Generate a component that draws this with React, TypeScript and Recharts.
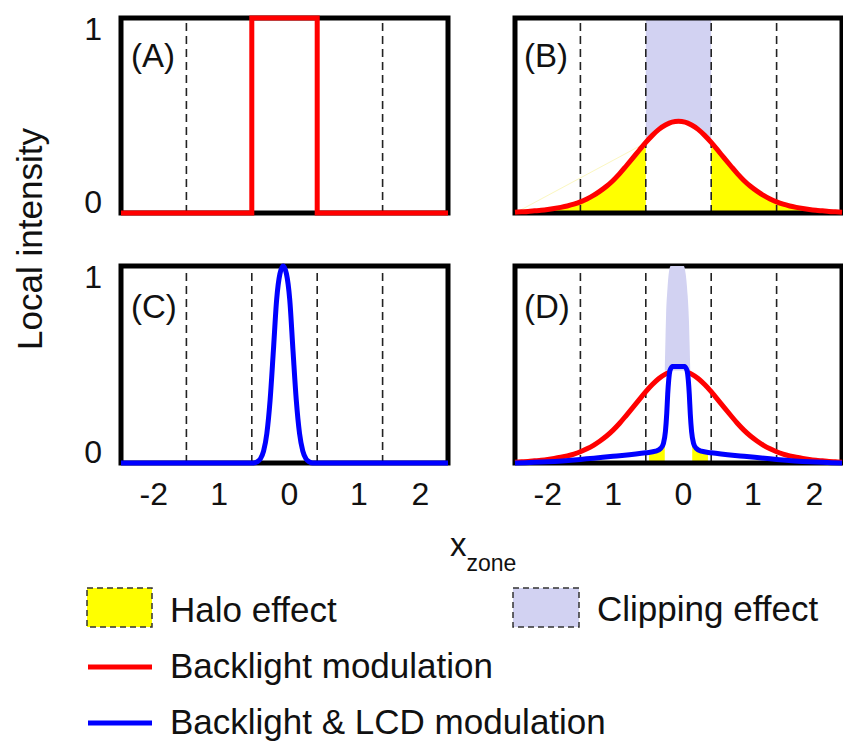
import React from "react";
import { ComposedChart, Line, Area, XAxis, YAxis, ReferenceLine, ReferenceArea } from "recharts";

const FONT = "'Liberation Sans', Arial, Helvetica, sans-serif";

const RED = "#FF0000";
const BLUE = "#0000FF";
const HALO = "#FFFF00";
const CLIP = "#D2D2F2";

// axes
const X_TICKS = [-2, -1, 0, 1, 2];
const X_TICK_LABELS = ["-2", "1", "0", "1", "2"];
const X_TICK_NUDGE = [0, 0, 5, 9, 5];
const Y_TICKS = [0, 1];
const ZONE_EDGES = [-1.5, -0.5, 0.5, 1.5];

// (A) target: only the centre zone is lit
const TARGET_X = [-2.5, -0.5, -0.5, 0.5, 0.5, 2.5];
const TARGET_Y = [0, 0, 1, 1, 0, 0];

// backlight spread of the centre LED, used in (B) and (D)
const BACKLIGHT_X = [
  -2.5, -2.4, -2.3, -2.2, -2.1, -2.0, -1.9, -1.8, -1.7, -1.6, -1.5, -1.4, -1.3, -1.2, -1.1, -1.0, -0.9,
  -0.8, -0.7, -0.6, -0.5, -0.4, -0.3, -0.2, -0.1, 0, 0.1, 0.2, 0.3, 0.4, 0.5, 0.6, 0.7, 0.8, 0.9, 1.0,
  1.1, 1.2, 1.3, 1.4, 1.5, 1.6, 1.7, 1.8, 1.9, 2.0, 2.1, 2.2, 2.3, 2.4, 2.5,
];
const BACKLIGHT_Y = [
  0.004, 0.006, 0.008, 0.011, 0.014, 0.018, 0.023, 0.029, 0.036, 0.045, 0.057, 0.072, 0.09, 0.112, 0.137,
  0.167, 0.202, 0.241, 0.281, 0.322, 0.362, 0.398, 0.429, 0.451, 0.466, 0.47, 0.466, 0.451, 0.429, 0.398,
  0.362, 0.322, 0.281, 0.241, 0.202, 0.167, 0.137, 0.112, 0.09, 0.072, 0.057, 0.045, 0.036, 0.029, 0.023,
  0.018, 0.014, 0.011, 0.008, 0.006, 0.004,
];

// faint edge of the halo fill in (B)
const HALO_EDGE_X = [-2.5, -0.5];
const HALO_EDGE_Y = [0, 0.36];

// (C) LCD transmittance
const LCD_X = [
  -2.5, -0.47, -0.42, -0.37, -0.32, -0.27, -0.22, -0.17, -0.12, -0.07, -0.02, 0.03, 0.08, 0.13, 0.18,
  0.23, 0.28, 0.33, 0.38, 0.43, 2.5,
];
const LCD_Y = [
  0, 0, 0.006, 0.02, 0.06, 0.15, 0.32, 0.57, 0.83, 0.96, 1.0, 0.96, 0.83, 0.57, 0.32, 0.15, 0.06, 0.02,
  0.006, 0, 0,
];

// (D) backlight x LCD result
const RESULT_X = [
  -2.5, -2.0, -1.5, -1.0, -0.5, -0.35, -0.27, -0.23, -0.2, -0.18, -0.165, -0.15, -0.13, -0.09, 0.09,
  0.13, 0.15, 0.165, 0.18, 0.2, 0.23, 0.27, 0.35, 0.5, 1.0, 1.5, 2.0, 2.5,
];
const RESULT_Y = [
  0, 0.006, 0.018, 0.034, 0.052, 0.06, 0.075, 0.1, 0.16, 0.25, 0.35, 0.42, 0.47, 0.49, 0.49, 0.47,
  0.42, 0.35, 0.25, 0.16, 0.1, 0.075, 0.06, 0.052, 0.034, 0.018, 0.006, 0,
];

// (D) clipped part above the result
const CLIP_D_X = [-0.21, -0.2, -0.19, -0.17, -0.15, -0.12, -0.06, 0.02, 0.08, 0.11, 0.14, 0.16, 0.17, 0.18];
const CLIP_D_TOP = [0.47, 0.62, 0.75, 0.88, 0.96, 1.0, 1.0, 1.0, 1.0, 0.96, 0.85, 0.72, 0.6, 0.47];
const CLIP_D_BOTTOM = [0.47, 0.47, 0.47, 0.47, 0.47, 0.47, 0.47, 0.47, 0.47, 0.47, 0.47, 0.47, 0.47, 0.47];

// (D) halo slivers beside the peak
const HALO_D_LEFT_X = [-0.45, -0.35, -0.27, -0.23, -0.21];
const HALO_D_LEFT_Y = [0.055, 0.06, 0.075, 0.1, 0.13];
const HALO_D_RIGHT_X = [0.21, 0.23, 0.27, 0.35, 0.45];
const HALO_D_RIGHT_Y = [0.13, 0.1, 0.075, 0.06, 0.055];

const pts = (xs: number[], ys: number[]) => xs.map((x, i) => ({ x, y: ys[i] }));

const target = pts(TARGET_X, TARGET_Y);
const backlight = pts(BACKLIGHT_X, BACKLIGHT_Y);
const haloEdge = pts(HALO_EDGE_X, HALO_EDGE_Y);
const lcd = pts(LCD_X, LCD_Y);
const result = pts(RESULT_X, RESULT_Y);

const clipB = backlight.filter((p) => p.x >= -0.5 && p.x <= 0.5).map((p) => ({ x: p.x, r: [p.y, 1] }));
const haloBLeft = backlight.filter((p) => p.x <= -0.5);
const haloBRight = backlight.filter((p) => p.x >= 0.5);
const clipD = CLIP_D_X.map((x, i) => ({ x, r: [CLIP_D_BOTTOM[i], CLIP_D_TOP[i]] }));
const haloDLeft = pts(HALO_D_LEFT_X, HALO_D_LEFT_Y);
const haloDRight = pts(HALO_D_RIGHT_X, HALO_D_RIGHT_Y);
// inside of the result peak is left blank, masking the backlight curve behind it
// (kept clear of the frame's bottom edge)
const resultCore = result.filter((p) => Math.abs(p.x) <= 0.165).map((p) => ({ x: p.x, r: [0.02, p.y] }));

const PLOT_W = 327;

const XTick = (props: any) => {
  const i = X_TICKS.indexOf(props.payload.value);
  return (
    <text x={props.x + X_TICK_NUDGE[i]} y={props.y + 42} textAnchor="middle" fontSize={32} fontFamily={FONT} fill="#111">
      {X_TICK_LABELS[i]}
    </text>
  );
};

const YTick = (props: any) => (
  <text x={props.x} y={props.y + (props.payload.value === 1 ? 22 : 0)} textAnchor="end" fontSize={32} fontFamily={FONT} fill="#111">
    {props.payload.value}
  </text>
);

const fillArea = (key: string, data: any[], color: string, dataKey = "y", z = 100) => (
  <Area
    key={key}
    data={data}
    dataKey={dataKey}
    type="monotone"
    fill={color}
    fillOpacity={1}
    stroke="none"
    dot={false}
    activeDot={false}
    isAnimationActive={false}
    zIndex={z}
  />
);

const curve = (key: string, data: any[], color: string, width = 5, type: any = "monotone", z = 400) => (
  <Line
    key={key}
    data={data}
    dataKey="y"
    type={type}
    stroke={color}
    strokeWidth={width}
    dot={false}
    activeDot={false}
    isAnimationActive={false}
    zIndex={z}
  />
);

function Panel({ left, top, plotH, xLabels, yLabels, fills, lines }: any) {
  const ml = yLabels ? 0 : 10;
  const yW = yLabels ? 60 : 0;
  const xH = 55;
  const width = ml + yW + PLOT_W + 10;
  const height = 10 + plotH + (xLabels ? xH : 10);
  return (
    <div style={{ position: "absolute", left: left - ml - yW, top: top - 10 }}>
      <ComposedChart width={width} height={height} margin={{ top: 10, right: 10, bottom: xLabels ? 0 : 10, left: ml }}>
        {xLabels ? (
          <XAxis
            type="number"
            dataKey="x"
            domain={[-2.5, 2.5]}
            ticks={X_TICKS}
            interval={0}
            tick={XTick}
            axisLine={false}
            tickLine={false}
            tickSize={0}
            tickMargin={0}
            height={xH}
          />
        ) : (
          <XAxis type="number" dataKey="x" domain={[-2.5, 2.5]} hide />
        )}
        {yLabels ? (
          <YAxis
            type="number"
            domain={[0, 1]}
            ticks={Y_TICKS}
            interval={0}
            tick={YTick}
            axisLine={false}
            tickLine={false}
            tickSize={0}
            tickMargin={19}
            width={yW}
          />
        ) : (
          <YAxis type="number" domain={[0, 1]} hide />
        )}
        {fills}
        {ZONE_EDGES.map((x) => (
          <ReferenceLine key={x} x={x} stroke="#222" strokeWidth={1.6} strokeDasharray="8 5" zIndex={150} />
        ))}
        <ReferenceArea x1={-2.5} x2={2.5} y1={0} y2={1} fill="none" fillOpacity={0} stroke="#000" strokeWidth={5} zIndex={160} />
        {lines}
      </ComposedChart>
    </div>
  );
}

const PANEL_LABELS = [
  { text: "(A)", x: 131, y: 67 },
  { text: "(B)", x: 524, y: 67 },
  { text: "(C)", x: 131, y: 318 },
  { text: "(D)", x: 524, y: 318 },
];

export default function App() {
  const txt = { fontFamily: FONT, fill: "#111" };
  return (
    <div style={{ position: "absolute", left: 0, top: 0, width: 843, height: 742, overflow: "hidden", background: "#fff" }}>
      <Panel left={121} top={18} plotH={195} yLabels lines={[curve("target", target, RED, 5, "linear")]} />
      <Panel
        left={515}
        top={18}
        plotH={195}
        fills={[
          fillArea("clipB", clipB, CLIP, "r"),
          fillArea("haloBL", haloBLeft, HALO),
          fillArea("haloBR", haloBRight, HALO),
        ]}
        lines={[curve("edge", haloEdge, "#FBF7C0", 1, "linear"), curve("backlightB", backlight, RED)]}
      />
      <Panel left={121} top={266} plotH={197} xLabels yLabels lines={[curve("lcd", lcd, BLUE)]} />
      <Panel
        left={515}
        top={266}
        plotH={197}
        xLabels
        fills={[fillArea("haloDL", haloDLeft, HALO), fillArea("haloDR", haloDRight, HALO)]}
        lines={[
          curve("backlightD", backlight, RED, 5, "monotone", 400),
          fillArea("core", resultCore, "#fff", "r", 410),
          fillArea("clipD", clipD, CLIP, "r", 420),
          curve("result", result, BLUE, 5, "monotone", 440),
        ]}
      />

      <svg width={843} height={742} style={{ position: "absolute", left: 0, top: 0, pointerEvents: "none" }}>
        {PANEL_LABELS.map((p) => (
          <text key={p.text} x={p.x} y={p.y} fontSize={33} {...txt}>
            {p.text}
          </text>
        ))}
        <text x={42} y={239} transform="rotate(-90 42 239)" textAnchor="middle" fontSize={35} {...txt}>
          Local intensity
        </text>
        <text x={450} y={556} fontSize={33} {...txt}>
          x<tspan fontSize={23} dy={15}>zone</tspan>
        </text>

        {/* legend */}
        <rect x={87} y={588} width={65} height={39} fill={HALO} stroke="#333" strokeWidth={1.5} strokeDasharray="6 4" />
        <text x={170} y={622} fontSize={35} {...txt}>Halo effect</text>
        <rect x={513} y={588} width={66} height={39} fill={CLIP} stroke="#333" strokeWidth={1.5} strokeDasharray="6 4" />
        <text x={597} y={621} fontSize={35} {...txt}>Clipping effect</text>
        <line x1={88} x2={152} y1={667} y2={667} stroke={RED} strokeWidth={5} />
        <text x={170} y={678} fontSize={35} {...txt}>Backlight modulation</text>
        <line x1={88} x2={152} y1={723} y2={723} stroke={BLUE} strokeWidth={5} />
        <text x={170} y={734} fontSize={35} {...txt}>Backlight &amp; LCD modulation</text>
      </svg>
    </div>
  );
}
